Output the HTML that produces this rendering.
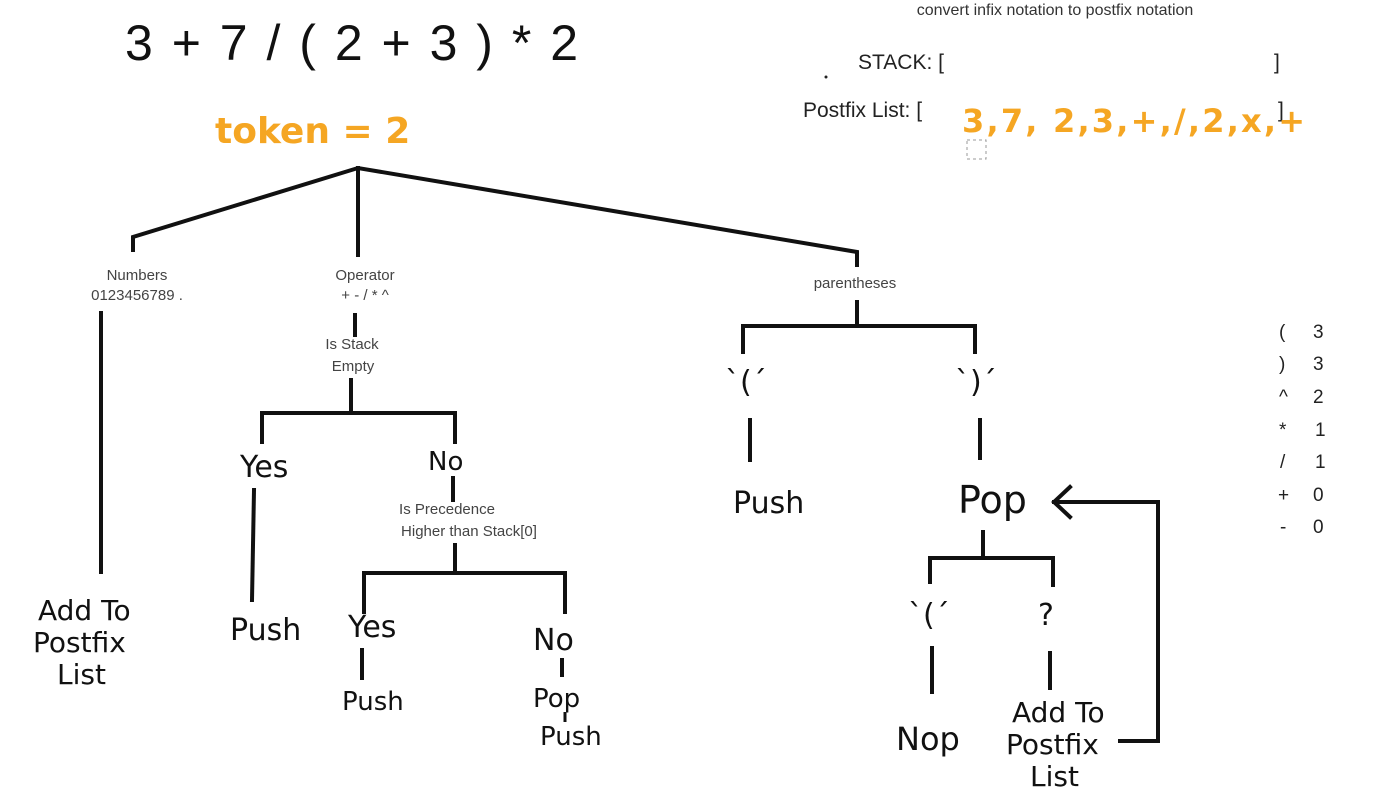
<!DOCTYPE html>
<html><head><meta charset="utf-8"><style>
html,body{margin:0;padding:0;background:#fff;}
svg{display:block}
.h{font-family:"DejaVu Sans","Liberation Sans",sans-serif;fill:#111;}
.s{font-family:"Liberation Sans",sans-serif;fill:#444;font-size:15px;text-anchor:middle}
</style></head><body>
<svg width="1377" height="803" viewBox="0 0 1377 803" xmlns="http://www.w3.org/2000/svg">
<rect width="1377" height="803" fill="#fff"/>
<text x="125" y="60" font-family="Liberation Sans,sans-serif" font-size="50" letter-spacing="2.5" fill="#111">3 + 7 / ( 2 + 3 ) * 2</text>
<text x="215" y="143" font-family="DejaVu Sans,sans-serif" font-weight="bold" font-size="36" fill="#f5a623">token = 2</text>
<text x="1055" y="15" font-family="Liberation Sans,sans-serif" font-size="16" fill="#333" text-anchor="middle">convert infix notation to postfix notation</text>
<text x="858" y="69" font-family="Liberation Sans,sans-serif" font-size="21" fill="#222">STACK: [</text>
<text x="1274" y="69" font-family="Liberation Sans,sans-serif" font-size="21" fill="#222">]</text>
<circle cx="826" cy="77" r="1.5" fill="#222"/>
<text x="803" y="117" font-family="Liberation Sans,sans-serif" font-size="21" fill="#222">Postfix List: [</text>
<text x="1278" y="117" font-family="Liberation Sans,sans-serif" font-size="21" fill="#222">]</text>
<text x="962" y="132" font-family="DejaVu Sans,sans-serif" font-weight="bold" font-size="32" letter-spacing="2.2" fill="#f5a623">3,7, 2,3,+,/,2,x,+</text>
<rect x="967" y="140" width="19" height="19" fill="none" stroke="#999" stroke-dasharray="3,3"/>
<g stroke="#111" stroke-width="4" fill="none" stroke-linecap="square">
<path d="M133 250 L133 237 L358 168 L857 252 L857 265"/>
<path d="M358 168 L358 255"/>
<path d="M101 313 L101 572"/>
<path d="M355 315 L355 335"/>
<path d="M351 380 L351 413 M262 442 L262 413 L455 413 L455 442"/>
<path d="M254 490 L252 600"/>
<path d="M453 478 L453 500"/>
<path d="M455 545 L455 573 M364 612 L364 573 L565 573 L565 612"/>
<path d="M362 650 L362 678 M562 660 L562 675"/>
<path d="M857 302 L857 326 M743 352 L743 326 L975 326 L975 352"/>
<path d="M750 420 L750 460 M980 420 L980 458"/>
<path d="M983 532 L983 558 M930 582 L930 558 L1053 558 L1053 585"/>
<path d="M932 648 L932 692 M1050 653 L1050 688"/>
<path d="M1120 741 L1158 741 L1158 502 L1054 502 M1070 487 L1054 502 L1070 517"/>
</g>
<path d="M565 712 L565 722" stroke="#111" stroke-width="3"/>
<text class="s" x="137" y="280">Numbers</text>
<text class="s" x="137" y="300">0123456789 .</text>
<text class="s" x="365" y="280">Operator</text>
<text class="s" x="365" y="300">+ - / * ^</text>
<text class="s" x="352" y="349">Is Stack</text>
<text class="s" x="353" y="371">Empty</text>
<text class="s" x="447" y="514">Is Precedence</text>
<text class="s" x="469" y="536">Higher than Stack[0]</text>
<text class="s" x="855" y="288">parentheses</text>
<g class="h" font-size="30">
<text x="240" y="477">Yes</text>
<text x="428" y="470" font-size="26">No</text>
<text x="230" y="640">Push</text>
<text x="348" y="637">Yes</text>
<text x="533" y="650">No</text>
<text x="342" y="710" font-size="26">Push</text>
<text x="533" y="707" font-size="26">Pop</text>
<text x="540" y="745" font-size="26">Push</text>
<text x="38" y="620" font-size="28">Add To</text>
<text x="33" y="652" font-size="28">Postfix</text>
<text x="57" y="684" font-size="28">List</text>
<text x="725" y="392">`(´</text>
<text x="955" y="392">`)´</text>
<text x="733" y="513">Push</text>
<text x="958" y="513" font-size="38">Pop</text>
<text x="908" y="625">`(´</text>
<text x="1038" y="625">?</text>
<text x="896" y="750" font-size="32">Nop</text>
<text x="1012" y="722" font-size="28">Add To</text>
<text x="1006" y="754" font-size="28">Postfix</text>
<text x="1030" y="786" font-size="28">List</text>
</g>
<g font-family="Liberation Sans,sans-serif" font-size="19" fill="#222">
<text x="1279" y="338">(</text><text x="1313" y="338">3</text>
<text x="1279" y="370">)</text><text x="1313" y="370">3</text>
<text x="1279" y="403">^</text><text x="1313" y="403">2</text>
<text x="1279" y="436">*</text><text x="1315" y="436">1</text>
<text x="1280" y="468">/</text><text x="1315" y="468">1</text>
<text x="1278" y="501">+</text><text x="1313" y="501">0</text>
<text x="1280" y="533">-</text><text x="1313" y="533">0</text>
</g>
</svg>
</body></html>
